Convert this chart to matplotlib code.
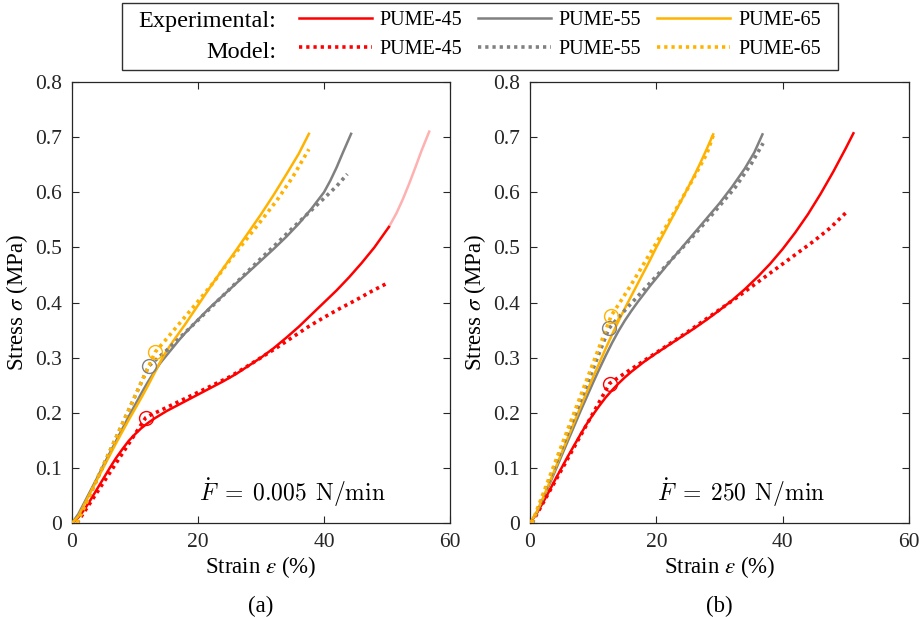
import matplotlib
matplotlib.use("Agg")
import matplotlib.pyplot as plt
from matplotlib.lines import Line2D
from matplotlib.patches import Rectangle

plt.rcParams['font.family'] = ['Liberation Serif', 'DejaVu Serif']
plt.rcParams['mathtext.fontset'] = 'stix'

# ---------------- data: panel (a) F_dot = 0.005 N/min ----------------
a_exp45_strain = [0, 1, 2, 3, 4, 5, 6, 7, 8, 9, 10, 11, 12, 13, 14, 15, 16, 17, 18, 19, 20,
                  22, 24, 26, 28, 30, 32, 34, 36, 38, 40, 42, 44, 46, 48, 50.3]
a_exp45_stress = [0, 0.01, 0.025, 0.043, 0.062, 0.081, 0.1, 0.118, 0.134, 0.149, 0.161, 0.172,
                  0.181, 0.189, 0.196, 0.203, 0.209, 0.215, 0.221, 0.227, 0.233,
                  0.245, 0.257, 0.27, 0.285, 0.3, 0.317, 0.336, 0.356, 0.378, 0.4, 0.422,
                  0.446, 0.472, 0.5, 0.537]
a_exp45_tail_strain = [50.3, 51.5, 52.5, 53.5, 54.5, 55.5, 56.7]
a_exp45_tail_stress = [0.537, 0.562, 0.587, 0.615, 0.645, 0.676, 0.71]
a_mod45_strain = [0.8, 11.7, 12.5, 14, 16, 18, 20, 22.5, 25, 27.5, 30, 32.5, 35, 37.5, 40,
                  42.5, 45, 47.5, 50.2]
a_mod45_stress = [0, 0.191, 0.196, 0.204, 0.215, 0.226, 0.237, 0.251, 0.265, 0.282, 0.3,
                  0.318, 0.337, 0.356, 0.373, 0.389, 0.404, 0.42, 0.436]

a_exp55_strain = [0, 1, 2, 3, 4, 5, 6, 7, 8, 9, 10, 11, 12, 13, 14, 15, 16, 17, 18, 19, 20,
                  22, 24, 26, 28, 30, 32, 34, 36, 38, 40, 41, 42, 43, 44.3]
a_exp55_stress = [0, 0.016, 0.038, 0.06, 0.082, 0.105, 0.127, 0.149, 0.171, 0.193, 0.214,
                  0.235, 0.255, 0.273, 0.29, 0.304, 0.318, 0.332, 0.345, 0.357, 0.369,
                  0.392, 0.413, 0.434, 0.455, 0.476, 0.497, 0.519, 0.543, 0.57, 0.6,
                  0.621, 0.645, 0.672, 0.706]
a_mod55_strain = [0.8, 12.2, 13, 14, 15, 16, 18, 20, 22.5, 25, 27.5, 30, 32.5, 35, 37.5, 40,
                  42, 43.7]
a_mod55_stress = [0, 0.285, 0.293, 0.303, 0.313, 0.324, 0.346, 0.368, 0.396, 0.424, 0.452,
                  0.48, 0.507, 0.535, 0.562, 0.589, 0.611, 0.633]

a_exp65_strain = [0, 1, 2, 3, 4, 5, 6, 7, 8, 9, 10, 11, 12, 13, 14, 15, 16, 17, 18, 19, 20,
                  22, 24, 26, 28, 30, 32, 34, 36, 37.6]
a_exp65_stress = [0, 0.012, 0.035, 0.057, 0.079, 0.101, 0.123, 0.145, 0.166, 0.187, 0.207,
                  0.227, 0.248, 0.27, 0.292, 0.312, 0.329, 0.345, 0.361, 0.378, 0.395,
                  0.429, 0.462, 0.494, 0.527, 0.56, 0.595, 0.632, 0.67, 0.706]
a_mod65_strain = [0.8, 13.2, 15, 17.5, 20, 22.5, 25, 27.5, 30, 32.5, 35, 37.6]
a_mod65_stress = [0, 0.31, 0.334, 0.368, 0.402, 0.437, 0.476, 0.512, 0.548, 0.585, 0.627, 0.678]

a_yield_strain = [11.7, 12.2, 13.2]
a_yield_stress = [0.191, 0.285, 0.31]

# ---------------- data: panel (b) F_dot = 250 N/min ----------------
b_exp45_strain = [0, 1, 2, 3, 4, 5, 6, 7, 8, 9, 10, 11, 12, 13, 14, 15, 16, 17, 18, 19, 20,
                  22, 24, 26, 28, 30, 32, 34, 36, 38, 40, 42, 44, 46, 48, 50, 51.2]
b_exp45_stress = [0, 0.016, 0.036, 0.057, 0.079, 0.1, 0.121, 0.141, 0.161, 0.18, 0.197,
                  0.213, 0.228, 0.241, 0.253, 0.264, 0.274, 0.283, 0.292, 0.3, 0.308,
                  0.323, 0.338, 0.353, 0.369, 0.386, 0.404, 0.424, 0.446, 0.47, 0.497,
                  0.527, 0.56, 0.597, 0.637, 0.68, 0.707]
b_mod45_strain = [0.3, 12.6, 14, 16, 18, 20, 22.5, 25, 27.5, 30, 32.5, 35, 37.5, 40, 42.5,
                  45, 47.5, 50.2]
b_mod45_stress = [0, 0.253, 0.264, 0.279, 0.294, 0.309, 0.328, 0.347, 0.367, 0.387, 0.407,
                  0.428, 0.449, 0.47, 0.491, 0.512, 0.535, 0.565]

b_exp55_strain = [0, 1, 2, 3, 4, 5, 6, 7, 8, 9, 10, 11, 12, 13, 14, 15, 16, 17, 18, 19, 20,
                  22, 24, 26, 28, 30, 32, 34, 35.5, 36.8]
b_exp55_stress = [0, 0.018, 0.042, 0.068, 0.095, 0.122, 0.149, 0.176, 0.203, 0.229, 0.255,
                  0.28, 0.304, 0.327, 0.348, 0.367, 0.384, 0.4, 0.415, 0.43, 0.444,
                  0.472, 0.499, 0.526, 0.553, 0.58, 0.61, 0.643, 0.672, 0.705]
b_mod55_strain = [0.4, 12.5, 14, 16, 18, 20, 22.5, 25, 27.5, 30, 32.5, 35, 36.9]
b_mod55_stress = [0, 0.353, 0.373, 0.398, 0.423, 0.448, 0.479, 0.51, 0.542, 0.575, 0.609,
                  0.651, 0.689]

b_exp65_strain = [0, 1, 2, 3, 4, 5, 6, 7, 8, 9, 10, 11, 12, 13, 14, 15, 16, 17, 18, 19, 20,
                  22, 24, 26, 27, 28, 29]
b_exp65_stress = [0, 0.018, 0.044, 0.071, 0.099, 0.127, 0.155, 0.183, 0.211, 0.238, 0.265,
                  0.291, 0.317, 0.342, 0.366, 0.389, 0.411, 0.433, 0.455, 0.477, 0.5,
                  0.543, 0.586, 0.63, 0.654, 0.679, 0.705]
b_mod65_strain = [0.3, 12.86, 14, 16, 18, 20, 22, 24, 26, 28, 29]
b_mod65_stress = [0, 0.376, 0.396, 0.432, 0.47, 0.508, 0.547, 0.587, 0.628, 0.67, 0.703]

b_yield_strain = [12.6, 12.5, 12.86]
b_yield_stress = [0.253, 0.353, 0.376]

series_labels = ['PUME-45', 'PUME-55', 'PUME-65']
colors = ['#FF0000', '#808080', '#FFB300']
tail_color = '#FFB0B0'
x_ticks = [0, 20, 40, 60]
y_ticks = [0, 0.1, 0.2, 0.3, 0.4, 0.5, 0.6, 0.7, 0.8]
rate_labels = [r'$\dot{F}\;=\;0.005\;\,\mathrm{N/min}$', r'$\dot{F}\;=\;250\;\,\mathrm{N/min}$']
panel_labels = ['(a)', '(b)']

LW = 1.8
DOT = dict(linestyle=(0, (0.9, 1.1)), lw=2.6)
AXC = '#262626'

fig = plt.figure(figsize=(9.21, 6.17), dpi=100)
ax_a = fig.add_axes([72/921, 94/617, 378/921, 441/617])
ax_b = fig.add_axes([530/921, 94/617, 379/921, 441/617])

panels = [
    (ax_a,
     [(a_exp45_strain, a_exp45_stress), (a_exp55_strain, a_exp55_stress), (a_exp65_strain, a_exp65_stress)],
     [(a_mod45_strain, a_mod45_stress), (a_mod55_strain, a_mod55_stress), (a_mod65_strain, a_mod65_stress)],
     (a_yield_strain, a_yield_stress)),
    (ax_b,
     [(b_exp45_strain, b_exp45_stress), (b_exp55_strain, b_exp55_stress), (b_exp65_strain, b_exp65_stress)],
     [(b_mod45_strain, b_mod45_stress), (b_mod55_strain, b_mod55_stress), (b_mod65_strain, b_mod65_stress)],
     (b_yield_strain, b_yield_stress)),
]

for i, (ax, exps, mods, yld) in enumerate(panels):
    if i == 0:
        ax.plot(a_exp45_tail_strain, a_exp45_tail_stress, color=tail_color, lw=LW, zorder=2)
    for (xs, ys), c in zip(exps, colors):
        ax.plot(xs, ys, color=c, lw=LW, zorder=3, solid_joinstyle='round')
    for (xs, ys), c in zip(mods, colors):
        ax.plot(xs, ys, color=c, zorder=4, **DOT)
    for x, y, c in zip(yld[0], yld[1], colors):
        ax.plot([x], [y], marker='o', ms=10, mfc='none', mec=c, mew=1.0, ls='none', zorder=5)
    ax.set_xlim(0, 60)
    ax.set_ylim(0, 0.8)
    ax.set_xticks(x_ticks)
    ax.set_yticks(y_ticks)
    ax.set_yticklabels(['0'] + [f'{v:.1f}' for v in y_ticks[1:]])
    ax.tick_params(direction='in', length=5, width=0.8, top=True, right=True,
                   labelsize=15.5, colors=AXC, pad=7)
    for sp in ax.spines.values():
        sp.set_color(AXC)
        sp.set_linewidth(0.9)
    ax.set_xlabel(r'Strain $\varepsilon$ (%)', fontsize=16.5, labelpad=2)
    ax.set_ylabel(r'Stress $\sigma$ (MPa)', fontsize=16.5, labelpad=4)
    t = ax.text(0.335, 0.068, rate_labels[i], transform=ax.transAxes, fontsize=17,
                ha='left', va='center')
    t.set_math_fontfamily('cm')
    ax.text(0.5, -0.19, panel_labels[i], transform=ax.transAxes, fontsize=16.5,
            ha='center', va='center')

# legend
handles = []
labels = []
for c, lab in zip(colors, series_labels):
    handles.append(Line2D([], [], color=c, lw=LW))
    labels.append(lab)
    handles.append(Line2D([], [], color=c, **DOT))
    labels.append(lab)
fig.legend(handles, labels, ncol=3, loc='upper left',
           bbox_to_anchor=(299/921, 1 - 11/617), frameon=False,
           borderpad=0, borderaxespad=0, handlelength=3.6, handletextpad=0.4,
           columnspacing=0.8, labelspacing=0.5, fontsize=14.5)
fig.text(276/921, 1 - 22/617, 'Experimental:', ha='right', va='center', fontsize=17.5)
fig.text(276/921, 1 - 53/617, 'Model:', ha='right', va='center', fontsize=17.5)
fig.patches.append(Rectangle((122/921, 1 - 70/617), (838 - 122)/921, 67/617,
                             transform=fig.transFigure, fill=False,
                             edgecolor='#303030', lw=1.0))

fig.savefig('out.png', dpi=100)
